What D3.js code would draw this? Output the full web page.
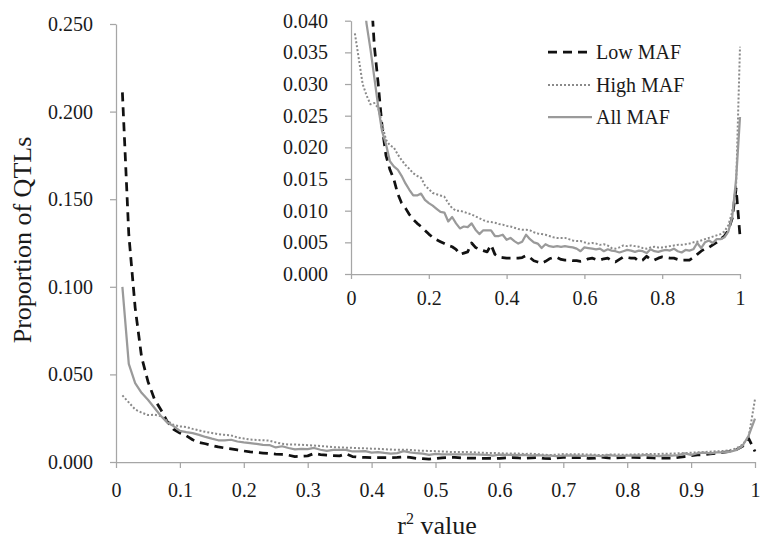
<!DOCTYPE html>
<html>
<head>
<meta charset="utf-8">
<script src="https://cdn.jsdelivr.net/npm/d3@7"></script>
<style>
  body { margin: 0; background: #fff; }
  svg text { font-family: "Liberation Serif", "DejaVu Serif", serif; fill: #1a1a1a; }
</style>
</head>
<body>
<script>
'use strict';

// r2 bins (x categories)
const rValues = [
  0.01, 0.02, 0.03, 0.04, 0.05, 0.06, 0.07, 0.08, 0.09, 0.10,
  0.11, 0.12, 0.13, 0.14, 0.15, 0.16, 0.17, 0.18, 0.19, 0.20,
  0.21, 0.22, 0.23, 0.24, 0.25, 0.26, 0.27, 0.28, 0.29, 0.30,
  0.31, 0.32, 0.33, 0.34, 0.35, 0.36, 0.37, 0.38, 0.39, 0.40,
  0.41, 0.42, 0.43, 0.44, 0.45, 0.46, 0.47, 0.48, 0.49, 0.50,
  0.51, 0.52, 0.53, 0.54, 0.55, 0.56, 0.57, 0.58, 0.59, 0.60,
  0.61, 0.62, 0.63, 0.64, 0.65, 0.66, 0.67, 0.68, 0.69, 0.70,
  0.71, 0.72, 0.73, 0.74, 0.75, 0.76, 0.77, 0.78, 0.79, 0.80,
  0.81, 0.82, 0.83, 0.84, 0.85, 0.86, 0.87, 0.88, 0.89, 0.90,
  0.91, 0.92, 0.93, 0.94, 0.95, 0.96, 0.97, 0.98, 0.99, 1.00
];

const lowMAF = [
  0.211, 0.130, 0.088, 0.060, 0.046, 0.036, 0.030, 0.0232, 0.0187, 0.0165,
  0.0150, 0.0127, 0.0112, 0.0104, 0.0094, 0.0086, 0.0080, 0.0075, 0.0069, 0.0063,
  0.0058, 0.0054, 0.0051, 0.0048, 0.0045, 0.0043, 0.0039, 0.0031, 0.0033, 0.0035,
  0.0049, 0.0042, 0.0039, 0.0037, 0.0035, 0.0046, 0.0031, 0.0027, 0.0026, 0.0025,
  0.0025, 0.0025, 0.0025, 0.0026, 0.0029, 0.0026, 0.0021, 0.0019, 0.0017, 0.0020,
  0.0024, 0.0026, 0.0026, 0.0023, 0.0022, 0.0022, 0.0021, 0.0021, 0.0020, 0.0021,
  0.0024, 0.0025, 0.0023, 0.0022, 0.0024, 0.0025, 0.0021, 0.0019, 0.0023, 0.0027,
  0.0026, 0.0025, 0.0025, 0.0020, 0.0022, 0.0028, 0.0023, 0.0022, 0.0025, 0.0027,
  0.0026, 0.0025, 0.0025, 0.0023, 0.0022, 0.0022, 0.0022, 0.0026, 0.0031, 0.0036,
  0.0040, 0.0042, 0.0046, 0.0050, 0.0055, 0.0060, 0.0069, 0.0088, 0.0135, 0.0060
];

const highMAF = [
  0.038, 0.034, 0.030, 0.0282, 0.0268, 0.0270, 0.0262, 0.0236, 0.0212, 0.0203,
  0.0200, 0.0189, 0.0180, 0.0172, 0.0166, 0.0159, 0.0155, 0.0152, 0.0140, 0.0134,
  0.0128, 0.0126, 0.0124, 0.0122, 0.0112, 0.0104, 0.0100, 0.0100, 0.0098, 0.0096,
  0.0094, 0.0091, 0.0088, 0.0085, 0.0083, 0.0082, 0.0081, 0.0079, 0.0078, 0.0076,
  0.0075, 0.0073, 0.0071, 0.0070, 0.0070, 0.0069, 0.0066, 0.0064, 0.0063, 0.0062,
  0.0060, 0.0058, 0.0057, 0.0057, 0.0057, 0.0055, 0.0053, 0.0052, 0.0052, 0.0050,
  0.0048, 0.0049, 0.0048, 0.0046, 0.0047, 0.0045, 0.0041, 0.0040, 0.0042, 0.0045,
  0.0044, 0.0045, 0.0044, 0.0043, 0.0041, 0.0040, 0.0042, 0.0043, 0.0042, 0.0042,
  0.0043, 0.0044, 0.0045, 0.0046, 0.0046, 0.0047, 0.0048, 0.0050, 0.0051, 0.0053,
  0.0055, 0.0057, 0.0059, 0.0061, 0.0063, 0.0067, 0.0077, 0.0098, 0.0140, 0.0359
];

const allMAF = [
  0.100, 0.056, 0.045, 0.0395, 0.0355, 0.031, 0.0264, 0.0225, 0.0205, 0.0178,
  0.0170, 0.0165, 0.0155, 0.0143, 0.0133, 0.0124, 0.0124, 0.0127, 0.0117, 0.0112,
  0.0108, 0.0103, 0.0098, 0.0097, 0.0083, 0.0090, 0.0080, 0.0072, 0.0075, 0.0074,
  0.0080, 0.0070, 0.0063, 0.0069, 0.0069, 0.0069, 0.0060, 0.0060, 0.0062, 0.0054,
  0.0057, 0.0052, 0.0048, 0.0051, 0.0062, 0.0055, 0.0050, 0.0048, 0.0041, 0.0047,
  0.0044, 0.0043, 0.0044, 0.0043, 0.0044, 0.0043, 0.0042, 0.0040, 0.0036, 0.0042,
  0.0041, 0.0040, 0.0039, 0.0040, 0.0036, 0.0039, 0.0037, 0.0036, 0.0034, 0.0036,
  0.0038, 0.0037, 0.0035, 0.0037, 0.0036, 0.0033, 0.0039, 0.0036, 0.0035, 0.0037,
  0.0038, 0.0037, 0.0040, 0.0036, 0.0034, 0.0038, 0.0037, 0.0039, 0.0049, 0.0041,
  0.0050, 0.0053, 0.0049, 0.0055, 0.0055, 0.0058, 0.0067, 0.0090, 0.0150, 0.0248
];

const seriesNames = ["Low MAF", "High MAF", "All MAF"];
const mainYTicks = [0, 0.05, 0.10, 0.15, 0.20, 0.25];
const mainXTicks = [0, 0.1, 0.2, 0.3, 0.4, 0.5, 0.6, 0.7, 0.8, 0.9, 1];
const insetYTicks = [0, 0.005, 0.010, 0.015, 0.020, 0.025, 0.030, 0.035, 0.040];
const insetXTicks = [0, 0.2, 0.4, 0.6, 0.8, 1];

(function() {

  const FONT = '"Liberation Serif", "DejaVu Serif", serif';
  let svgContainer = "";
  // line look for each series
  const styles = {
    "Low MAF":  { stroke: "#111111", width: 2.75, dash: "9,6" },
    "High MAF": { stroke: "#8a8a8a", width: 2,    dash: "2,2" },
    "All MAF":  { stroke: "#9a9a9a", width: 2.25, dash: null }
  };

  window.onload = function() {
    svgContainer = d3.select('body')
      .append('svg')
      .attr('width', 761)
      .attr('height', 545)
      .attr('font-family', FONT);

    let series = [
      { name: "Low MAF", values: lowMAF },
      { name: "High MAF", values: highMAF },
      { name: "All MAF", values: allMAF }
    ];

    // main chart
    let mainMap = drawAxes({
      xRange: [116, 755], yRange: [462, 24],
      yMax: 0.25, xTicks: mainXTicks, yTicks: mainYTicks,
      xFormat: d3.format("~g"), xTick: 6, xPad: 15
    });
    plotData(series, mainMap, null);

    // inset chart
    let insetMap = drawAxes({
      xRange: [351, 740], yRange: [274, 20.7],
      yMax: 0.04, xTicks: insetXTicks, yTicks: insetYTicks,
      xFormat: d3.format("~g"), xTick: 5, xPad: 12
    });
    svgContainer.append("clipPath")
      .attr("id", "insetClip")
      .append("rect")
      .attr("x", 351).attr("y", 20.7)
      .attr("width", 740 - 351 + 4).attr("height", 274 - 20.7);
    plotData(series, insetMap, "url(#insetClip)");

    makeLegend();
    makeLabels();
  }

  // axis titles
  function makeLabels() {
    svgContainer.append('text')
      .attr('transform', 'translate(31, 240)rotate(-90)')
      .attr('text-anchor', 'middle')
      .style('font-family', FONT)
      .style('font-size', '26px')
      .text('Proportion of QTLs');

    let xt = svgContainer.append('text')
      .attr('x', 437)
      .attr('y', 534)
      .attr('text-anchor', 'middle')
      .style('font-family', FONT)
      .style('font-size', '26px');
    xt.append('tspan').text('r');
    xt.append('tspan').attr('dy', -10).style('font-size', '16px').text('2');
    xt.append('tspan').attr('dy', 10).text(' value');
  }

  function makeLegend() {
    let rowsY = [52, 85, 117];
    seriesNames.forEach((name, i) => {
      let s = styles[name];
      svgContainer.append('line')
        .attr('x1', 548).attr('x2', 592)
        .attr('y1', rowsY[i]).attr('y2', rowsY[i])
        .attr('stroke', s.stroke)
        .attr('stroke-width', s.width)
        .attr('stroke-dasharray', s.dash);
      svgContainer.append('text')
        .attr('x', 596)
        .attr('y', rowsY[i])
        .attr('dy', '0.35em')
        .style('font-family', FONT)
        .style('font-size', '20px')
        .text(name);
    });
  }

  // draw the series lines
  function plotData(series, map, clip) {
    let g = svgContainer.append('g');
    if (clip) g.attr('clip-path', clip);

    let line = d3.line()
      .x((d, i) => map.xScale(rValues[i]))
      .y((d) => map.yScale(d));

    series.forEach((s) => {
      let st = styles[s.name];
      g.append('path')
        .datum(s.values)
        .attr('d', line)
        .attr('fill', 'none')
        .attr('stroke', st.stroke)
        .attr('stroke-width', st.width)
        .attr('stroke-dasharray', st.dash)
        .attr('stroke-linejoin', 'round');
    });
  }

  // draw the axes and ticks
  function drawAxes(opt) {
    let xScale = d3.scaleLinear().domain([0, 1]).range(opt.xRange);
    let yScale = d3.scaleLinear().domain([0, opt.yMax]).range(opt.yRange);

    let xAxis = d3.axisBottom(xScale)
      .tickValues(opt.xTicks)
      .tickFormat(opt.xFormat)
      .tickSizeInner(opt.xTick)
      .tickSizeOuter(0)
      .tickPadding(opt.xPad);
    let gx = svgContainer.append('g')
      .attr('transform', 'translate(0,' + opt.yRange[0] + ')')
      .call(xAxis);

    let yAxis = d3.axisLeft(yScale)
      .tickValues(opt.yTicks)
      .tickFormat(d3.format('.3f'))
      .tickSizeInner(6)
      .tickSizeOuter(0)
      .tickPadding(17);
    let gy = svgContainer.append('g')
      .attr('transform', 'translate(' + opt.xRange[0] + ',0)')
      .call(yAxis);

    [gx, gy].forEach((g) => {
      g.attr('font-family', FONT);
      g.select('.domain').attr('stroke', '#a6a6a6').attr('stroke-width', 1.25);
      g.selectAll('.tick line').attr('stroke', '#a6a6a6').attr('stroke-width', 1.25);
      g.selectAll('.tick text')
        .style('font-size', '20px')
        .style('font-family', FONT)
        .attr('fill', '#1a1a1a');
    });

    return { xScale: xScale, yScale: yScale };
  }

})();
</script>
</body>
</html>
